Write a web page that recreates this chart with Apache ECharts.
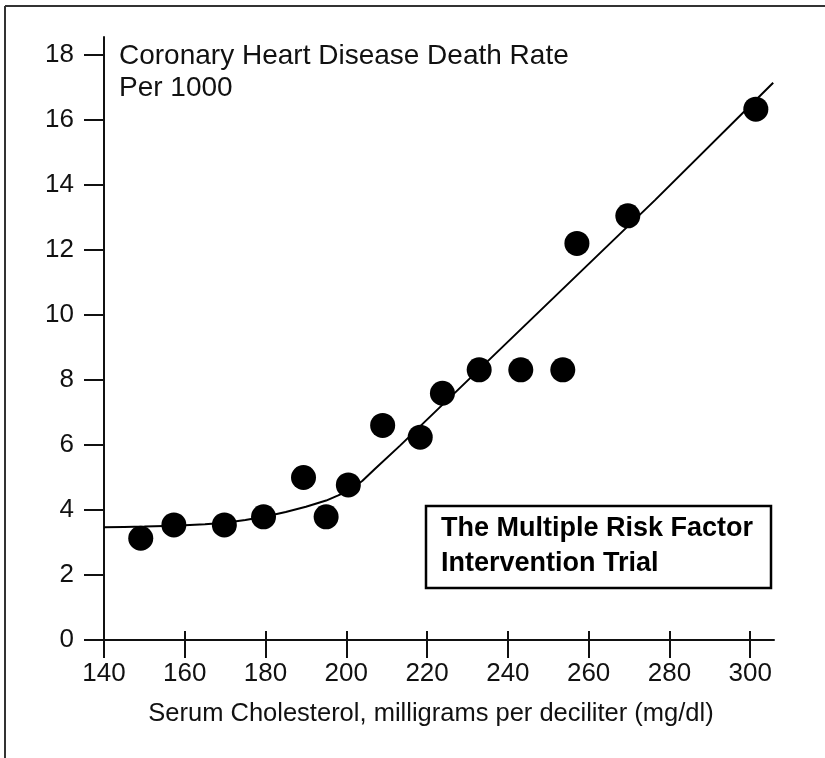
<!DOCTYPE html>
<html><head><meta charset="utf-8">
<script src="https://cdn.jsdelivr.net/npm/echarts@6/dist/echarts.min.js"></script>
<style>html,body{margin:0;padding:0;background:#fff}#c{width:825px;height:758px}</style>
</head><body><div id="c"></div>
<script>
const xTicks = [140, 160, 180, 200, 220, 240, 260, 280, 300];
const yTicks = [0, 2, 4, 6, 8, 10, 12, 14, 16, 18];
const cholesterol = [149.1, 157.3, 169.8, 179.5, 189.4, 195.0, 200.5, 209.0, 218.3, 223.8, 232.9, 243.2, 253.6, 257.1, 269.7, 301.4];
const deathRate = [3.13, 3.54, 3.54, 3.79, 5.0, 3.79, 4.77, 6.6, 6.24, 7.59, 8.31, 8.31, 8.31, 12.2, 13.05, 16.33];
const curveX = [140, 145, 150, 155, 160, 165, 170, 175, 180, 185, 190, 195, 198, 201, 204, 207, 213.3, 276.5, 305.7];
const curveY = [3.47, 3.48, 3.49, 3.51, 3.53, 3.56, 3.61, 3.69, 3.8, 3.94, 4.1, 4.29, 4.45, 4.62, 4.9, 5.25, 5.98, 13.54, 17.14];
const titleLines = ['Coronary Heart Disease Death Rate', 'Per 1000'];
const boxLines = ['The Multiple Risk Factor', 'Intervention Trial'];
const xName = 'Serum Cholesterol, milligrams per deciliter (mg/dl)';

const FONT = '"Liberation Sans", Arial, Helvetica, sans-serif';
const INK = '#111';
const chart = echarts.init(document.getElementById('c'), null, {renderer: 'canvas'});
const gridPos = {left: 104, top: 37, right: 51, bottom: 118, containLabel: false};

chart.setOption({
  backgroundColor: '#fff',
  animation: false,
  grid: [Object.assign({}, gridPos), Object.assign({}, gridPos)],
  xAxis: [{
    type: 'value', gridIndex: 0, min: 140, max: 305.9,
    axisLine: {show: true, onZero: false, lineStyle: {color: INK, width: 2}},
    axisTick: {show: true, customValues: xTicks, length: 18, lineStyle: {color: INK, width: 2}},
    axisLabel: {customValues: xTicks, fontSize: 26, margin: 21, color: INK, fontFamily: FONT},
    splitLine: {show: false},
    name: xName, nameLocation: 'middle', nameGap: 61,
    nameTextStyle: {fontSize: 25.5, color: INK, fontFamily: FONT, padding: [0, 16, 0, 0]}
  }, {
    type: 'value', gridIndex: 1, min: 140, max: 305.9,
    axisLine: {show: false},
    axisTick: {show: true, inside: true, customValues: xTicks, length: 9, lineStyle: {color: INK, width: 2}},
    axisLabel: {show: false},
    splitLine: {show: false}
  }],
  yAxis: [{
    type: 'value', gridIndex: 0, min: 0, max: 18.55,
    axisLine: {show: true, onZero: false, lineStyle: {color: INK, width: 2}},
    axisTick: {show: true, customValues: yTicks, length: 20, lineStyle: {color: INK, width: 2}},
    axisLabel: {customValues: yTicks, fontSize: 26, margin: 30, color: INK, fontFamily: FONT},
    splitLine: {show: false}
  }, {
    type: 'value', gridIndex: 1, min: 0, max: 18.55, show: false
  }],
  series: [{
    type: 'line', xAxisIndex: 0, yAxisIndex: 0,
    data: curveX.map((x, i) => [x, curveY[i]]),
    showSymbol: false, smooth: false,
    lineStyle: {color: '#000', width: 2}, z: 2
  }, {
    type: 'scatter', xAxisIndex: 0, yAxisIndex: 0,
    data: cholesterol.map((x, i) => [x, deathRate[i]]),
    symbol: 'circle', symbolSize: 25,
    itemStyle: {color: '#000', opacity: 1}, z: 3
  }],
  graphic: [
    {type: 'line', shape: {x1: 5, y1: 6, x2: 825, y2: 6}, style: {stroke: '#333', lineWidth: 2}},
    {type: 'line', shape: {x1: 5, y1: 6, x2: 5, y2: 758}, style: {stroke: '#333', lineWidth: 2}},
    {type: 'text', x: 119, y: 40, style: {text: titleLines.join('\n'), font: '28px ' + FONT, lineHeight: 32, fill: INK, textVerticalAlign: 'top'}},
    {type: 'rect', shape: {x: 426, y: 506, width: 345, height: 82}, style: {fill: '#fff', stroke: '#000', lineWidth: 2.5}, z: 10},
    {type: 'text', x: 441, y: 511, z: 11, style: {text: boxLines.join('\n'), font: 'bold 27px ' + FONT, lineHeight: 35, fill: '#000', textVerticalAlign: 'top'}}
  ]
});
</script></body></html>
